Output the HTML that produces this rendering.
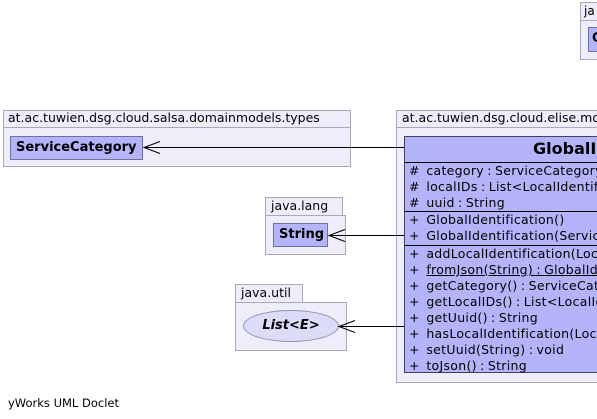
<!DOCTYPE html>
<html><head><meta charset="utf-8"><style>
html,body{margin:0;width:597px;height:419px;overflow:hidden}
body{background:#fff;font-family:"DejaVu Sans","Liberation Sans",sans-serif;font-size:11px;color:#000;position:relative}
#w{position:absolute;left:0;top:0;width:597px;height:419px;overflow:hidden}
#w div{position:absolute;box-sizing:border-box}
.pk{background:#eeeefa;border:1px solid #a8a8b8}
.cls{background:#b4b4fa;border:1px solid #7070a0}
.t{white-space:nowrap;line-height:16px}
.m{font-size:12.5px;letter-spacing:0.3px;word-spacing:-1px}
.hl{height:1px;background:#000}
</style></head><body><div id="w">
<div class="pk" style="left:580px;top:2px;width:30px;height:19px"></div>
<div class="t" style="left:584px;top:3px;font-size:12px">ja</div>
<div class="pk" style="left:580px;top:20px;width:30px;height:40px"></div>
<div class="cls" style="left:588px;top:27px;width:20px;height:25px"></div>
<div class="t" style="left:592px;top:31px;font-weight:bold;font-size:13px">G</div>

<div class="pk" style="left:3px;top:110px;width:348px;height:57px"></div>
<div class="hl" style="left:3px;top:127px;width:348px;background:#a8a8b8"></div>
<div class="t" style="left:8px;top:110px;font-size:12.5px">at.ac.tuwien.dsg.cloud.salsa.domainmodels.types</div>
<div class="cls" style="left:10px;top:136px;width:133px;height:24px"></div>
<div class="t" style="left:16px;top:140px;font-weight:bold;font-size:13px">ServiceCategory</div>

<div class="pk" style="left:265px;top:197px;width:78px;height:19px"></div>
<div class="t" style="left:271px;top:198px;font-size:12.5px">java.lang</div>
<div class="pk" style="left:265px;top:215px;width:81px;height:40px"></div>
<div class="cls" style="left:273px;top:223px;width:55px;height:24px"></div>
<div class="t" style="left:279px;top:227px;font-weight:bold;font-size:13px">String</div>

<div class="pk" style="left:235px;top:284px;width:68px;height:19px"></div>
<div class="t" style="left:241px;top:285px;font-size:12.5px">java.util</div>
<div class="pk" style="left:235px;top:302px;width:112px;height:49px"></div>
<div style="left:243px;top:310px;width:96px;height:32px;border-radius:50%;background:#dcdcf8;border:1px solid #9090b8"></div>
<div class="t" style="left:243px;top:318px;width:96px;text-align:center;font-weight:bold;font-style:italic;font-size:13px">List&lt;E&gt;</div>

<div class="pk" style="left:396px;top:110px;width:220px;height:273px"></div>
<div class="hl" style="left:396px;top:127px;width:220px;background:#a8a8b8"></div>
<div class="t" style="left:402px;top:110px;font-size:12.5px">at.ac.tuwien.dsg.cloud.elise.model</div>
<div class="cls" style="left:404px;top:136px;width:220px;height:237px;border-color:#404060"></div>
<div class="t" style="left:533px;top:139px;font-weight:bold;font-size:16px;line-height:20px">GlobalIdentification</div>
<div class="hl" style="left:404px;top:162px;width:200px"></div>
<div class="t m" style="left:409px;top:163px">#&nbsp;&nbsp;category : ServiceCategory</div>
<div class="t m" style="left:409px;top:179px">#&nbsp;&nbsp;localIDs : List&lt;LocalIdentification&gt;</div>
<div class="t m" style="left:409px;top:195px">#&nbsp;&nbsp;uuid : String</div>
<div class="hl" style="left:404px;top:211px;width:200px"></div>
<div class="t m" style="left:409px;top:212px">+&nbsp;&nbsp;GlobalIdentification()</div>
<div class="t m" style="left:409px;top:228px">+&nbsp;&nbsp;GlobalIdentification(ServiceCategory)</div>
<div class="hl" style="left:404px;top:245px;width:200px"></div>
<div class="t m" style="left:409px;top:246px">+&nbsp;&nbsp;addLocalIdentification(LocalIdentification)</div>
<div class="t m" style="left:409px;top:262px">+&nbsp;&nbsp;<u>fromJson(String) : GlobalIdentification</u></div>
<div class="t m" style="left:409px;top:278px">+&nbsp;&nbsp;getCategory() : ServiceCategory</div>
<div class="t m" style="left:409px;top:294px">+&nbsp;&nbsp;getLocalIDs() : List&lt;LocalIdentification&gt;</div>
<div class="t m" style="left:409px;top:310px">+&nbsp;&nbsp;getUuid() : String</div>
<div class="t m" style="left:409px;top:326px">+&nbsp;&nbsp;hasLocalIdentification(LocalIdentification)</div>
<div class="t m" style="left:409px;top:342px">+&nbsp;&nbsp;setUuid(String) : void</div>
<div class="t m" style="left:409px;top:358px">+&nbsp;&nbsp;toJson() : String</div>

<svg style="position:absolute;left:0;top:0" width="597" height="419">
<g stroke="#000" stroke-width="1" fill="none">
<line x1="144" y1="147.5" x2="404" y2="147.5"/>
<polyline points="160,141.5 144,147.5 160,153.5"/>
<line x1="329" y1="235.5" x2="404" y2="235.5"/>
<polyline points="345,229.5 329,235.5 345,241.5"/>
<line x1="339" y1="326.5" x2="404" y2="326.5"/>
<polyline points="355,320.5 339,326.5 355,332.5"/>
</g></svg>

<div class="t" style="left:8px;top:395px;font-size:11.5px">yWorks UML Doclet</div>
</div></body></html>
